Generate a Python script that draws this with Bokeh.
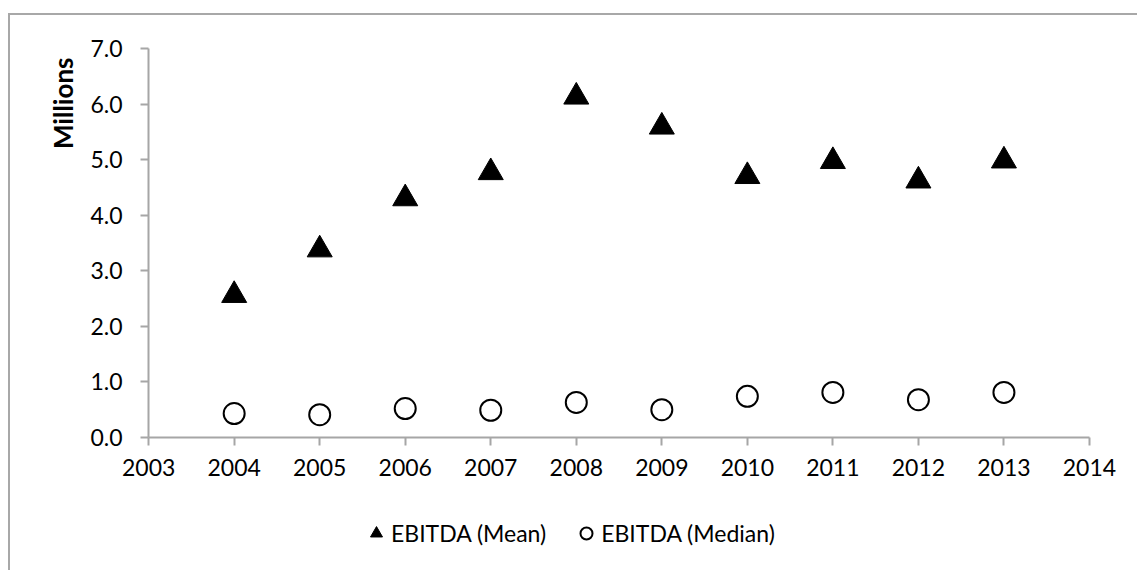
from bokeh.plotting import figure
from bokeh.models import Legend, LegendItem, FixedTicker, NumeralTickFormatter, Range1d, Title
from bokeh.embed import file_html
from bokeh.resources import INLINE

# ---- data ----
years = [2004, 2005, 2006, 2007, 2008, 2009, 2010, 2011, 2012, 2013]
ebitda_mean = [2.56, 3.38, 4.30, 4.77, 6.13, 5.59, 4.70, 4.97, 4.62, 4.98]
ebitda_median = [0.43, 0.41, 0.52, 0.49, 0.63, 0.50, 0.74, 0.81, 0.68, 0.81]
x_ticks = [2003, 2004, 2005, 2006, 2007, 2008, 2009, 2010, 2011, 2012, 2013, 2014]
y_ticks = [0, 1, 2, 3, 4, 5, 6, 7]
series_labels = ["EBITDA (Mean)", "EBITDA (Median)"]
y_title = "Millions"

FONT = "Lato"
AXIS_GRAY = "#A6A6A6"
# The plot frame spans the whole chart area so that tick labels and the legend sit
# inside it; the axes are pinned at x=2003 / y=0 and bounded to the data extents.
X_MIN, X_MAX = 2002.25, 2014.585
Y_MIN, Y_MAX = -2.43, 7.594

p = figure(width=1129, height=557, output_backend="svg", toolbar_location=None,
           x_range=Range1d(X_MIN, X_MAX), y_range=Range1d(Y_MIN, Y_MAX),
           min_border_left=74, min_border_right=0, min_border_top=0, min_border_bottom=0)
p.margin = (13, 0, 0, 8)
p.styles = {"border-left": "2px solid #A8A8A8", "border-top": "2px solid #A8A8A8"}

p.xgrid.visible = False
p.ygrid.visible = False
p.outline_line_color = None
p.background_fill_color = "white"
p.border_fill_color = "white"

for ax in (p.xaxis[0], p.yaxis[0]):
    ax.axis_line_color = AXIS_GRAY
    ax.axis_line_width = 2
    ax.major_tick_line_color = AXIS_GRAY
    ax.major_tick_line_width = 2
    ax.major_tick_in = 0
    ax.major_tick_out = 8
    ax.minor_tick_line_color = None
    ax.major_label_text_font = FONT
    ax.major_label_text_font_size = "23px"
    ax.major_label_text_color = "black"

p.xaxis[0].ticker = FixedTicker(ticks=x_ticks)
p.xaxis[0].bounds = (x_ticks[0], x_ticks[-1])
p.xaxis[0].major_label_standoff = 14
p.xaxis[0].fixed_location = y_ticks[0]
p.yaxis[0].ticker = FixedTicker(ticks=y_ticks)
p.yaxis[0].bounds = (y_ticks[0], y_ticks[-1])
p.yaxis[0].formatter = NumeralTickFormatter(format="0.0")
p.yaxis[0].major_label_standoff = 18
p.yaxis[0].fixed_location = x_ticks[0]

p.add_layout(Title(text=y_title, align="right", offset=42, standoff=12,
                   text_font=FONT, text_font_size="26px", text_font_style="bold",
                   text_color="black"), "left")

r_mean = p.scatter(years, ebitda_mean, marker="triangle", size=25,
                   fill_color="black", line_color="black")
r_median = p.scatter(years, ebitda_median, marker="circle", size=21,
                     fill_color="white", line_color="black", line_width=2)

legend = Legend(items=[LegendItem(label=series_labels[0], renderers=[r_mean]),
                       LegendItem(label=series_labels[1], renderers=[r_median])],
                orientation="horizontal", location=(277, 24),
                glyph_width=30, glyph_height=30, label_standoff=0, spacing=25,
                padding=0, margin=0, border_line_color=None,
                background_fill_alpha=0, label_text_font=FONT,
                label_text_font_size="23px", label_text_color="black")
p.add_layout(legend, "center")

open("out.html", "w").write(file_html(p, INLINE))
